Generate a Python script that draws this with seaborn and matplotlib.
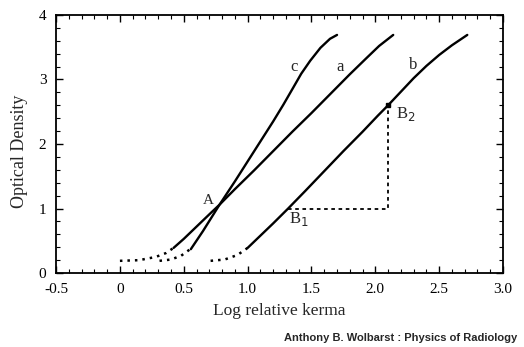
import numpy as np
import pandas as pd
import matplotlib
matplotlib.use("Agg")
import matplotlib.pyplot as plt
import seaborn as sns
from matplotlib.ticker import MultipleLocator

# characteristic curves (log relative kerma, optical density)
a_toe_x = [0.0, 0.15, 0.28, 0.36, 0.42]
a_toe_y = [0.19, 0.20, 0.25, 0.31, 0.39]
a_x = [0.42, 0.50, 0.60, 0.70, 0.78, 0.90, 1.05, 1.20, 1.35, 1.50, 1.65, 1.80, 1.93, 2.03, 2.14]
a_y = [0.39, 0.53, 0.72, 0.91, 1.06, 1.30, 1.59, 1.89, 2.19, 2.48, 2.78, 3.08, 3.33, 3.52, 3.69]

c_toe_x = [0.31, 0.40, 0.48, 0.55]
c_toe_y = [0.19, 0.21, 0.27, 0.37]
c_x = [0.555, 0.65, 0.78, 0.90, 1.00, 1.10, 1.20, 1.28, 1.356, 1.42, 1.49, 1.57, 1.645, 1.70]
c_y = [0.37, 0.65, 1.06, 1.42, 1.73, 2.04, 2.35, 2.61, 2.87, 3.09, 3.29, 3.49, 3.63, 3.69]

b_toe_x = [0.71, 0.82, 0.92, 1.0]
b_toe_y = [0.19, 0.21, 0.28, 0.39]
b_x = [1.0, 1.10, 1.20, 1.317, 1.45, 1.60, 1.75, 1.90, 2.02, 2.10, 2.20, 2.30, 2.40, 2.50, 2.60, 2.72]
b_y = [0.39, 0.58, 0.77, 1.0, 1.27, 1.58, 1.89, 2.19, 2.44, 2.60, 2.81, 3.02, 3.21, 3.38, 3.53, 3.69]

# gradient construction between B1 and B2
b1 = (1.317, 1.0)
b2 = (2.10, 2.60)

sns.set_theme(style="ticks")
plt.rcParams['font.family'] = ['Liberation Serif', 'DejaVu Serif']

fig = plt.figure(figsize=(5.24, 3.47), dpi=100)
ax = fig.add_axes([0.107, 0.213, 0.853, 0.744])

solid = pd.concat([
    pd.DataFrame({"x": a_x, "y": a_y, "curve": "a"}),
    pd.DataFrame({"x": c_x, "y": c_y, "curve": "c"}),
    pd.DataFrame({"x": b_x, "y": b_y, "curve": "b"}),
])
toes = pd.concat([
    pd.DataFrame({"x": a_toe_x, "y": a_toe_y, "curve": "a"}),
    pd.DataFrame({"x": c_toe_x, "y": c_toe_y, "curve": "c"}),
    pd.DataFrame({"x": b_toe_x, "y": b_toe_y, "curve": "b"}),
])

for name, grp in solid.groupby("curve"):
    sns.lineplot(data=grp, x="x", y="y", ax=ax, color="black", lw=1.7,
                 sort=False, estimator=None)
for name, grp in toes.groupby("curve"):
    sns.lineplot(data=grp, x="x", y="y", ax=ax, color="black", lw=1.8,
                 linestyle=(0, (1, 2)), sort=False, estimator=None)

ax.plot([b1[0], b2[0], b2[0]], [b1[1], b1[1], b2[1]], color="black",
        lw=1.3, linestyle=(0, (2, 2)))
ax.plot([b2[0]], [b2[1]], marker="s", ms=3, color="black")

ax.text(1.36, 3.19, "c", fontsize=12, ha="center", va="center")
ax.text(1.72, 3.19, "a", fontsize=12, ha="center", va="center")
ax.text(2.30, 3.22, "b", fontsize=12, ha="center", va="center")
ax.text(0.69, 1.13, "A", fontsize=11, ha="center", va="center")
ax.text(2.24, 2.47, "B$_2$", fontsize=12, ha="center", va="center")
ax.text(1.40, 0.84, "B$_1$", fontsize=12, ha="center", va="center")

ax.set_xlim(-0.5, 3.0)
ax.set_ylim(0, 4)
ax.xaxis.set_major_locator(MultipleLocator(0.5))
ax.xaxis.set_minor_locator(MultipleLocator(0.1))
ax.yaxis.set_major_locator(MultipleLocator(1))
ax.yaxis.set_minor_locator(MultipleLocator(0.2))
ax.set_xticks([-0.5, 0, 0.5, 1.0, 1.5, 2.0, 2.5, 3.0])
ax.set_xticklabels(["-0.5", "0", "0.5", "1.0", "1.5", "2.0", "2.5", "3.0"])
ax.tick_params(which="both", direction="in", top=True, right=True,
               labelsize=11, color="black", labelcolor="black")
ax.tick_params(which="major", length=5, width=1)
ax.tick_params(which="minor", length=3, width=0.8)
ax.tick_params(axis="x", which="major", pad=7)
ax.tick_params(axis="y", which="major", pad=7)
for s in ax.spines.values():
    s.set_linewidth(1.3)
    s.set_color("black")

ax.set_xlabel("Log relative kerma", fontsize=12.5, labelpad=5)
ax.set_ylabel("Optical Density", fontsize=13)
ax.yaxis.set_label_coords(-0.063, 0.47)

fig.text(0.988, 0.027, "Anthony B. Wolbarst : Physics of Radiology",
         family="Liberation Sans", fontweight="bold", fontsize=8,
         ha="right", va="center")

fig.savefig("out.png", dpi=100)
